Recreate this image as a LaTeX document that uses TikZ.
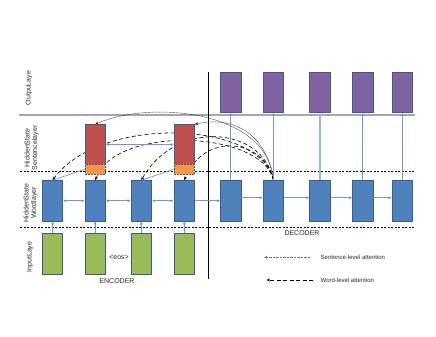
\documentclass[tikz,border=0pt]{standalone}
\usepackage{fontspec}
\setmainfont{Liberation Sans}
\usetikzlibrary{arrows.meta,backgrounds}
\definecolor{wblue}{RGB}{79,129,189}
\definecolor{bordc}{RGB}{56,93,138}
\definecolor{lblue}{RGB}{110,152,208}
\definecolor{ggreen}{RGB}{155,187,89}
\definecolor{ppurple}{RGB}{128,100,162}
\definecolor{rred}{RGB}{192,80,77}
\definecolor{oorange}{RGB}{247,150,70}
\definecolor{txt}{RGB}{40,40,40}
\tikzset{
  box/.style={rectangle, draw=bordc, line width=0.8pt, minimum width=20.4pt, minimum height=40.3pt, inner sep=0pt},
  wordbox/.style={box, fill=wblue},
  inbox/.style={box, fill=ggreen},
  outbox/.style={box, fill=ppurple},
  sentbox/.style={box, fill=rred, minimum height=39.6pt},
  orbox/.style={box, fill=oorange, minimum height=10pt, dash pattern=on 2pt off 1pt},
  conn/.style={draw=lblue, line width=0.7pt, -{Latex[length=3pt,width=3pt]}},
  dconn/.style={draw=lblue, line width=0.7pt, {Latex[length=3pt,width=3pt]}-{Latex[length=3pt,width=3pt]}},
  plain/.style={draw=lblue, line width=0.7pt},
  wordatt/.style={draw=black, line width=0.6pt, dash pattern=on 4pt off 2.5pt, -{Stealth[length=3.5pt,width=3pt]}},
  sentatt/.style={draw=black!85, line width=0.5pt, dash pattern=on 0.8pt off 0.6pt, -{Stealth[length=3.5pt,width=3pt]}},
  lab/.style={font=\fontsize{7}{7.5}\selectfont, text=txt, inner sep=0pt},
  sidelab/.style={font=\fontsize{7}{7.5}\selectfont, text=txt, inner sep=0pt, rotate=90, align=center},
  guide/.style={draw=black, line width=0.5pt, dash pattern=on 2pt off 1.5pt}
}
\begin{document}
\begin{tikzpicture}[x=1pt,y=-1pt]
\useasboundingbox (0,0) rectangle (436,337);
% encoder word layer
\node[wordbox] (e1) at (52.5,200.8) {};
\node[wordbox] (e2) at (95.2,200.8) {};
\node[wordbox] (e3) at (141.3,200.8) {};
\node[wordbox] (e4) at (184.2,200.8) {};
% input
\node[inbox] (i1) at (52.5,254) {};
\node[inbox] (i2) at (95.2,254) {};
\node[inbox] (i3) at (141.3,254) {};
\node[inbox] (i4) at (184.2,254) {};
% sentence layer
\node[sentbox] (s1) at (95.2,144.5) {};
\node[sentbox] (s2) at (184.2,144.5) {};
\node[orbox] (o1) at (95.2,169.3) {};
\node[orbox] (o2) at (184.2,169.3) {};
% decoder
\node[wordbox] (d1) at (230.8,200.8) {};
\node[wordbox] (d2) at (273.5,200.8) {};
\node[wordbox] (d3) at (320,200.8) {};
\node[wordbox] (d4) at (362.8,200.8) {};
\node[wordbox] (d5) at (402.3,200.8) {};
% outputs
\node[outbox] (y1) at (230.8,92.2) {};
\node[outbox] (y2) at (273.5,92.2) {};
\node[outbox] (y3) at (320,92.2) {};
\node[outbox] (y4) at (362.8,92.2) {};
\node[outbox] (y5) at (402.3,92.2) {};
% guide lines
\coordinate (gl) at (19,115);
\coordinate (gr) at (415,115);
\coordinate (sl) at (20,171.7);
\coordinate (sr) at (415,171.7);
\coordinate (wl) at (20,227.3);
\coordinate (wr) at (415,227.3);
\coordinate (vt) at (208,72);
\coordinate (vb) at (208,279);
\begin{pgfonlayer}{background}
\draw[gray!70, line width=1.2pt] (gl) -- (gr);
\draw[guide] (sl) -- (sr);
\draw[guide] (wl) -- (wr);
\draw[black, line width=0.7pt] (vt) -- (vb);
% attention arcs
\draw[sentatt] (d2.north) .. controls (268,110) and (150,100) .. (s1.north);
\draw[sentatt] (d2.north) .. controls (266,132) and (232,116) .. (s2.north east);
\draw[wordatt] (d2.north) .. controls (260,120) and (100,115) .. (e1.north);
\draw[wordatt] (d2.north) .. controls (262,130) and (115,125) .. (e2.north);
\draw[wordatt] (d2.north) .. controls (262,125) and (175,120) .. (e3.north);
\draw[wordatt] (d2.north) .. controls (265,140) and (205,130) .. (e4.north);
\end{pgfonlayer}
% input to word
\foreach \k in {1,...,4} \draw[conn] (i\k.north) -- (e\k.south);
% encoder horizontal
\draw[dconn] (e1.east) -- (e2.west);
\draw[dconn] (e2.east) -- (e3.west);
\draw[dconn] (e3.east) -- (e4.west);
\draw[conn] (e4.east) -- (d1.west);
% decoder horizontal
\draw[conn] ([yshift=3pt]d1.east) -- ([yshift=3pt]d2.west);
\draw[conn] ([yshift=3pt]d2.east) -- ([yshift=3pt]d3.west);
\draw[conn] ([yshift=3pt]d3.east) -- ([yshift=3pt]d4.west);
\draw[conn] ([yshift=3pt]d4.east) -- ([yshift=3pt]d5.west);
% decoder to output
\draw[conn] (d1.north) -- (y1.south);
\draw[conn] (d2.north) -- (y2.south);
\draw[conn, draw=lblue!70, line width=1.2pt] (d3.north) -- (y3.south);
\draw[conn] (d4.north) -- (y4.south);
\draw[conn] (d5.north) -- (y5.south);
% word to sentence
\draw[plain] (e1.north) -- (o1.west);
\draw[plain] (e3.north) -- (o2.west);
\draw[dconn] (s1.east) -- (s2.west);
% labels
\node[sidelab] (lo) at (29,88) {OutpuLaye};
\node[sidelab] (ls) at (31.5,148) {HiddenState\\Sentencelayer};
\node[sidelab] (lw) at (30.5,203) {HiddenState\\Wordlayer};
\node[sidelab] (li) at (30,257) {InputLaye};
\node[lab] (enc) at (117,281.5) {ENCODER};
\node[lab] (dec) at (302,233) {DECODER};
\node[lab] (eos) at (119,257) {<eos>};
% legend
\coordinate (l1a) at (310,257.3);
\coordinate (l1b) at (264,257.3);
\coordinate (l2a) at (313,280);
\coordinate (l2b) at (266.5,280);
\draw[sentatt, draw=black!55, line width=0.8pt] (l1a) -- (l1b);
\draw[wordatt] (l2a) -- (l2b);
\node[lab, anchor=west, font=\fontsize{6}{7}\selectfont] (t1) at (320.5,257.3) {Sentence-level attention};
\node[lab, anchor=west, font=\fontsize{6}{7}\selectfont] (t2) at (320.5,280) {Word-level attention};
\end{tikzpicture}
\end{document}
